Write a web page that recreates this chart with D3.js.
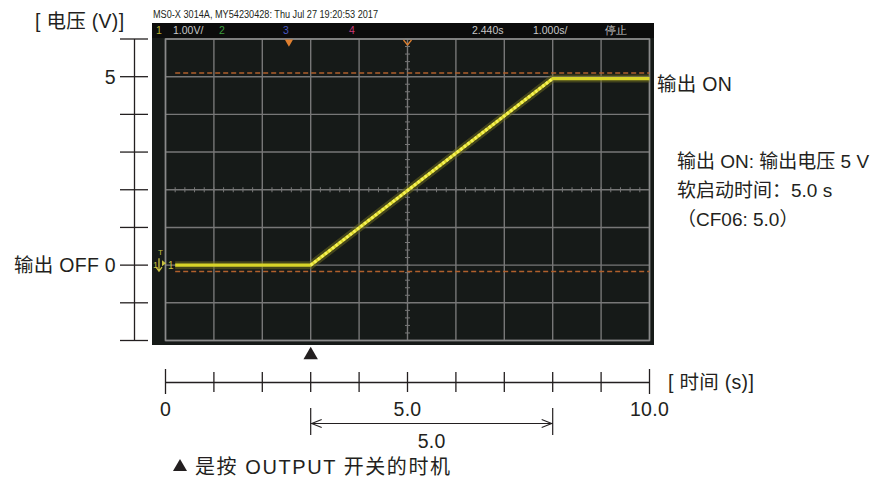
<!DOCTYPE html>
<meta charset="utf-8">
<style>
body { margin: 0; background: #fff; }
text { font-family: "Liberation Sans", "Noto Sans CJK SC", sans-serif; fill: #231f20; }
.big { font-size: 19.5px; letter-spacing: 0.3px; }
.narrow { font-family: "Liberation Sans", sans-serif; }
</style>
<body>
<script src="https://cdn.jsdelivr.net/npm/d3@7"></script>
<script>
// data
var timeTicks = [0, 1, 2, 3, 4, 5, 6, 7, 8, 9, 10];
var timeLabels = [[0, "0"], [5, "5.0"], [10, "10.0"]];
var voltTicks = [-2, -1, 0, 1, 2, 3, 4, 5, 6];
var voltLabels = [[5, "5"], [0, "输出 OFF 0"]];
var traceT = [0.2, 3.0, 8.0, 10.0];
var traceV = [0, 0, 4.95, 4.95];
var cursorV = [5.1, -0.17];
var pressT = 3.0;
var softStart = [3.0, 8.0];
var notes = ["输出 ON: 输出电压 5 V", "软启动时间：5.0 s", "（CF06: 5.0）"];
var headerItems = [
  ["1", 156, "#b8b030"], ["1.00V/", 173, "#c8c8c8"], ["2", 219, "#3c9c3c"],
  ["3", 283, "#4a58c0"], ["4", 349, "#c83a78"], ["2.440s", 472, "#c8c8c8"],
  ["1.000s/", 533, "#c8c8c8"], ["停止", 605, "#c8c8c8"]
];

var W = 876, H = 486;
var svg = d3.select("body").append("svg").attr("width", W).attr("height", H);

var x = d3.scaleLinear().domain([0, 10]).range([165.5, 649.5]);
var y = d3.scaleLinear().domain([-2, 6]).range([340.5, 39]);

// scope screen
svg.append("rect").attr("x", 152).attr("y", 23).attr("width", 502).attr("height", 322).attr("fill", "#161a18");
svg.append("rect").attr("x", 152).attr("y", 23).attr("width", 502).attr("height", 15).attr("fill", "#0c0c0c");
svg.append("text").attr("class", "narrow").attr("x", 153).attr("y", 18)
  .attr("font-size", 10).attr("textLength", 225).attr("lengthAdjust", "spacingAndGlyphs")
  .attr("fill", "#333").text("MS0-X 3014A, MY54230428: Thu Jul 27 19:20:53 2017");
svg.selectAll(".hdr").data(headerItems).enter().append("text")
  .attr("class", "narrow")
  .attr("x", function(d) { return d[1]; }).attr("y", 34)
  .attr("font-size", 10.5)
  .style("fill", function(d) { return d[2]; })
  .text(function(d) { return d[0]; });

var grid = svg.append("g");
grid.selectAll(".gx").data(timeTicks).enter().append("line")
  .attr("x1", function(d) { return x(d); }).attr("x2", function(d) { return x(d); })
  .attr("y1", y(6)).attr("y2", y(-2))
  .attr("stroke", "#777").attr("stroke-width", 1.4);
grid.selectAll(".gy").data(voltTicks).enter().append("line")
  .attr("x1", x(0)).attr("x2", x(10))
  .attr("y1", function(d) { return y(d); }).attr("y2", function(d) { return y(d); })
  .attr("stroke", "#777").attr("stroke-width", 1.4);
// minor ticks on the centre lines
var minorX = d3.range(0, 10.01, 0.2), minorY = d3.range(-2, 6.01, 0.2);
grid.selectAll(".mx").data(minorX).enter().append("line")
  .attr("x1", function(d) { return x(d); }).attr("x2", function(d) { return x(d); })
  .attr("y1", y(2) - 2.5).attr("y2", y(2) + 2.5).attr("stroke", "#777");
grid.selectAll(".my").data(minorY).enter().append("line")
  .attr("x1", x(5) - 2.5).attr("x2", x(5) + 2.5)
  .attr("y1", function(d) { return y(d); }).attr("y2", function(d) { return y(d); }).attr("stroke", "#777");
svg.append("rect").attr("x", x(0)).attr("y", y(6)).attr("width", x(10) - x(0)).attr("height", y(-2) - y(6))
  .attr("fill", "none").attr("stroke", "#8a8a8a").attr("stroke-width", 1.5);

// cursors
svg.selectAll(".cur").data(cursorV).enter().append("line")
  .attr("x1", x(0.2)).attr("x2", x(10))
  .attr("y1", function(d) { return y(d); }).attr("y2", function(d) { return y(d); })
  .attr("stroke", "#b0602c").attr("stroke-width", 1.5).attr("stroke-dasharray", "5,3");

// markers at the top edge
svg.append("path").attr("d", d3.symbol().type(d3.symbolTriangle).size(30))
  .attr("transform", "translate(" + x(2.55) + "," + (y(6) + 3) + ") rotate(180)").attr("fill", "#e08030");
svg.append("path").attr("d", "M" + (x(5) - 4) + "," + (y(6) + 1) + "L" + x(5) + "," + (y(6) + 6) + "L" + (x(5) + 4) + "," + (y(6) + 1))
  .attr("fill", "none").attr("stroke", "#e08030").attr("stroke-width", 1.3);

// trace
var pts = traceT.map(function(t, i) { return [x(t), y(traceV[i])]; });
var line = d3.line();
svg.append("path").attr("d", line(pts)).attr("fill", "none")
  .attr("stroke", "#6a6820").attr("stroke-width", 8).attr("stroke-opacity", 0.55);
svg.append("path").attr("d", line(pts)).attr("fill", "none")
  .attr("stroke", "#d8d428").attr("stroke-width", 3.2);
svg.append("path").attr("d", line(pts.slice(1, 3))).attr("fill", "none")
  .attr("stroke", "#f6f25a").attr("stroke-width", 3).attr("stroke-dasharray", "2.5,2");

// ground / trigger markers
svg.append("text").attr("class", "narrow").attr("x", 158).attr("y", y(0) - 10).attr("font-size", 8).style("fill", "#c8c040").text("T");
svg.append("text").attr("class", "narrow").attr("x", 153).attr("y", y(0) + 3).attr("font-size", 9).style("fill", "#c8c040").text("1");
svg.append("path").attr("d", "M159," + (y(0) - 7) + "V" + (y(0) + 5) + "M156," + (y(0) + 2) + "L159," + (y(0) + 6) + "L162," + (y(0) + 2))
  .attr("fill", "none").attr("stroke", "#c8c040").attr("stroke-width", 1.3);
svg.append("path").attr("d", "M162," + (y(0) - 5) + "L166," + (y(0) - 2) + "L162," + (y(0) + 1) + "Z").attr("fill", "#c8c040");
svg.append("text").attr("class", "narrow").attr("x", 168).attr("y", y(0) + 4).attr("font-size", 10).style("fill", "#c8c040").text("1");

// left voltage axis
var ax = 134.5;
svg.append("line").attr("x1", ax).attr("x2", ax).attr("y1", y(6)).attr("y2", y(-2)).attr("stroke", "#231f20").attr("stroke-width", 1.3);
svg.selectAll(".vt").data(voltTicks).enter().append("line")
  .attr("x1", 120).attr("x2", 148)
  .attr("y1", function(d) { return y(d); }).attr("y2", function(d) { return y(d); })
  .attr("stroke", "#231f20").attr("stroke-width", 1.3);
svg.selectAll(".vl").data(voltLabels).enter().append("text")
  .attr("class", "big")
  .attr("x", 116).attr("y", function(d) { return y(d[0]); }).attr("dy", "0.36em")
  .attr("text-anchor", "end").text(function(d) { return d[1]; });
svg.append("text").attr("class", "big").attr("x", 35).attr("y", 28).text("[ 电压 (V)]");

// right side notes
svg.append("text").attr("class", "big").attr("x", 657).attr("y", 91).text("输出 ON");
svg.selectAll(".note").data(notes).enter().append("text")
  .attr("x", 677)
  .attr("y", function(d, i) { return 168 + i * 29; })
  .attr("font-size", 19).text(function(d) { return d; });

// press marker
svg.append("path").attr("d", d3.symbol().type(d3.symbolTriangle).size(90))
  .attr("transform", "translate(" + x(pressT) + ",355)").attr("fill", "#231f20");

// time axis
var ty = 382.5;
svg.append("line").attr("x1", x(0)).attr("x2", x(10)).attr("y1", ty).attr("y2", ty).attr("stroke", "#231f20").attr("stroke-width", 1.3);
svg.selectAll(".tt").data(timeTicks).enter().append("line")
  .attr("x1", function(d) { return x(d); }).attr("x2", function(d) { return x(d); })
  .attr("y1", function(d) { return d == 0 || d == 10 ? 369 : 372; })
  .attr("y2", function(d) { return d == 0 || d == 10 ? 394 : 392; })
  .attr("stroke", "#231f20").attr("stroke-width", 1.3);
svg.selectAll(".tl").data(timeLabels).enter().append("text")
  .attr("class", "big")
  .attr("x", function(d) { return x(d[0]); }).attr("y", 416)
  .attr("text-anchor", "middle").text(function(d) { return d[1]; });
svg.append("text").attr("class", "big").attr("x", 668).attr("y", 389).text("[ 时间 (s)]");

// soft start dimension
var dy = 423.5, x1 = x(softStart[0]), x2 = x(softStart[1]);
svg.selectAll(".dimEnd").data(softStart).enter().append("line")
  .attr("x1", function(d) { return x(d); }).attr("x2", function(d) { return x(d); })
  .attr("y1", 408).attr("y2", 435).attr("stroke", "#231f20").attr("stroke-width", 1.2);
svg.append("line").attr("x1", x1).attr("x2", x2).attr("y1", dy).attr("y2", dy).attr("stroke", "#231f20").attr("stroke-width", 1.1);
svg.append("path").attr("d", "M" + (x1 + 11) + "," + (dy - 4) + "L" + (x1 + 1) + "," + dy + "L" + (x1 + 11) + "," + (dy + 4)
  + "M" + (x2 - 11) + "," + (dy - 4) + "L" + (x2 - 1) + "," + dy + "L" + (x2 - 11) + "," + (dy + 4))
  .attr("fill", "none").attr("stroke", "#231f20").attr("stroke-width", 1.1);
svg.append("text").attr("class", "big").attr("x", (x1 + x2) / 2).attr("y", 448).attr("text-anchor", "middle").text("5.0");

// footnote
svg.append("path").attr("d", d3.symbol().type(d3.symbolTriangle).size(85))
  .attr("transform", "translate(180,467)").attr("fill", "#231f20");
svg.append("text").attr("x", 195).attr("y", 474).attr("font-size", 20)
  .attr("textLength", 255).attr("lengthAdjust", "spacing").text("是按 OUTPUT 开关的时机");
</script>
</body>
